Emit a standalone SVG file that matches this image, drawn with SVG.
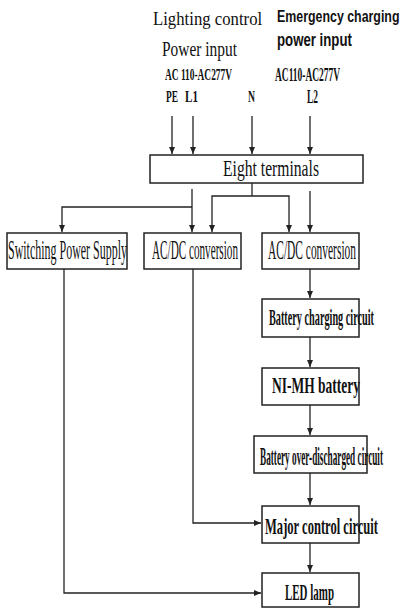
<svg xmlns="http://www.w3.org/2000/svg" width="405" height="609" viewBox="0 0 405 609">
<defs>
<marker id="ah" markerUnits="userSpaceOnUse" markerWidth="8" markerHeight="8" refX="7" refY="3" orient="auto">
<path d="M0,0 L7,3 L0,6 z" fill="#222"/>
</marker>
<style>
.box{fill:none;stroke:#222;stroke-width:1.5}
.ln{fill:none;stroke:#222;stroke-width:1.3}
.ar{fill:none;stroke:#222;stroke-width:1.3;marker-end:url(#ah)}
text{font-family:"Liberation Serif","DejaVu Serif",serif;fill:#111}
.b{font-weight:bold}
.s{font-family:"Liberation Sans","DejaVu Sans",sans-serif;font-weight:bold}
</style>
</defs>
<rect width="405" height="609" fill="#fff"/>
<g id="labels">
<text transform="translate(153,25) scale(0.6,1)" font-size="19" textLength="182" lengthAdjust="spacingAndGlyphs">Lighting control</text>
<text transform="translate(277,22) scale(0.7,1)" font-size="17" class="s" textLength="175" lengthAdjust="spacingAndGlyphs">Emergency charging</text>
<text transform="translate(277,46) scale(0.7,1)" font-size="18" class="s" textLength="107" lengthAdjust="spacingAndGlyphs">power input</text>
<text transform="translate(162,56) scale(0.6,1)" font-size="21" textLength="125" lengthAdjust="spacingAndGlyphs">Power input</text>
<text transform="translate(165,80) scale(0.5,1)" font-size="17" class="b" textLength="134" lengthAdjust="spacingAndGlyphs">AC 110-AC277V</text>
<text transform="translate(275,81) scale(0.5,1)" font-size="18" class="b" textLength="130" lengthAdjust="spacingAndGlyphs">AC110-AC277V</text>
<text transform="translate(166,102) scale(0.5,1)" font-size="17" class="b" textLength="24" lengthAdjust="spacingAndGlyphs">PE</text>
<text transform="translate(185,102) scale(0.5,1)" font-size="17" class="b" textLength="26" lengthAdjust="spacingAndGlyphs">L1</text>
<text transform="translate(248,102) scale(0.5,1)" font-size="17" class="b" textLength="14" lengthAdjust="spacingAndGlyphs">N</text>
<text transform="translate(307,103) scale(0.5,1)" font-size="18" class="b" textLength="22" lengthAdjust="spacingAndGlyphs">L2</text>
</g>
<g id="connectors">
<line class="ar" x1="172" y1="116" x2="172" y2="154"/>
<line class="ar" x1="193" y1="116" x2="193" y2="154"/>
<line class="ar" x1="252" y1="116" x2="252" y2="154"/>
<line class="ar" x1="310" y1="116" x2="310" y2="154"/>
<line class="ar" x1="192" y1="189" x2="192" y2="232"/>
<polyline class="ar" points="192,207 62,207 62,232"/>
<line class="ln" x1="252" y1="183" x2="252" y2="196"/>
<polyline class="ar" points="252,196 212,196 212,232"/>
<polyline class="ar" points="252,196 289,196 289,232"/>
<line class="ar" x1="310" y1="191" x2="310" y2="232"/>
<line class="ar" x1="310" y1="269" x2="310" y2="298"/>
<line class="ar" x1="310" y1="337" x2="310" y2="367"/>
<line class="ar" x1="310" y1="405" x2="310" y2="435"/>
<line class="ar" x1="310" y1="473" x2="310" y2="505"/>
<line class="ar" x1="310" y1="543" x2="310" y2="572"/>
<polyline class="ar" points="193,269 193,523 261,523"/>
<polyline class="ar" points="64,269 64,593 261,593"/>
</g>
<g id="eight-terminals">
<rect class="box" x="150" y="155" width="213" height="28"/>
<text transform="translate(223,176) scale(0.5,1)" font-size="24" textLength="192" lengthAdjust="spacingAndGlyphs">Eight terminals</text>
</g>
<g id="switching-power-supply">
<rect class="box" x="7" y="233" width="120" height="36"/>
<text transform="translate(8,259) scale(0.5,1)" font-size="27" textLength="238" lengthAdjust="spacingAndGlyphs">Switching Power Supply</text>
</g>
<g id="acdc-1">
<rect class="box" x="144" y="233" width="97" height="36"/>
<text transform="translate(152,259) scale(0.5,1)" font-size="27" textLength="172" lengthAdjust="spacingAndGlyphs">AC/DC conversion</text>
</g>
<g id="acdc-2">
<rect class="box" x="262" y="233" width="97" height="36"/>
<text transform="translate(268,259) scale(0.5,1)" font-size="27" textLength="176" lengthAdjust="spacingAndGlyphs">AC/DC conversion</text>
</g>
<g id="battery-charging">
<rect class="box" x="262" y="299" width="97" height="38"/>
<text transform="translate(269,325) scale(0.5,1)" font-size="24" class="b" textLength="210" lengthAdjust="spacingAndGlyphs">Battery charging circuit</text>
</g>
<g id="nimh-battery">
<rect class="box" x="262" y="368" width="97" height="37"/>
<text transform="translate(272,393) scale(0.5,1)" font-size="24" class="b" textLength="176" lengthAdjust="spacingAndGlyphs">NI-MH battery</text>
</g>
<g id="over-discharge">
<rect class="box" x="254" y="436" width="113" height="37"/>
<text transform="translate(260,465) scale(0.5,1)" font-size="25" class="b" textLength="246" lengthAdjust="spacingAndGlyphs">Battery over-discharged circuit</text>
</g>
<g id="major-control">
<rect class="box" x="262" y="506" width="97" height="37"/>
<text transform="translate(265,534) scale(0.5,1)" font-size="24" class="b" textLength="226" lengthAdjust="spacingAndGlyphs">Major control circuit</text>
</g>
<g id="led-lamp">
<rect class="box" x="262" y="573" width="97" height="34"/>
<text transform="translate(285,600) scale(0.5,1)" font-size="23" class="b" textLength="98" lengthAdjust="spacingAndGlyphs">LED lamp</text>
</g>
</svg>
